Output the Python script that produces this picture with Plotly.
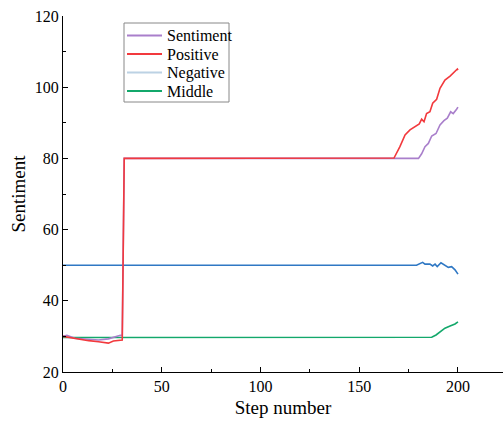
import plotly.graph_objects as go

# Step / value pairs for each series
sent_steps = [0, 2, 6, 12, 18, 23, 26, 28, 29, 30, 31, 100, 167, 180, 181.6, 183.3, 185, 186.7, 188.9, 190.9, 192.9, 194.6, 196.3, 197.6, 199.3, 200]
sent_vals = [30.0, 30.3, 29.5, 29.2, 29.0, 29.3, 29.8, 30.3, 30.3, 30.2, 80, 80, 80, 80, 81.3, 83.3, 84.2, 86.3, 87.0, 89.4, 90.6, 91.3, 93.1, 92.6, 93.8, 94.4]

pos_steps = [0, 1, 6, 13, 18, 23, 25.5, 30, 31, 100, 167.6, 170.6, 173.2, 175.7, 178.2, 180.4, 181.6, 182.8, 184.1, 185.8, 187.2, 189.2, 190.9, 193.4, 196, 198.5, 199.7, 200]
pos_vals = [30.0, 29.9, 29.3, 28.8, 28.5, 28.1, 28.7, 29.0, 80, 80, 80.1, 83.3, 86.6, 88.0, 88.9, 89.7, 91.0, 90.3, 92.6, 93.1, 95.5, 96.6, 99.7, 102.0, 103.1, 104.6, 105.1, 104.8]

neg_steps = [0, 100, 179, 182.1, 183.3, 185.8, 187.2, 188.4, 189.5, 191.4, 193.4, 195.1, 196.8, 198.5, 200]
neg_vals = [50.0, 50.0, 50.0, 50.8, 50.3, 50.3, 49.8, 50.3, 49.6, 50.7, 50.1, 49.4, 49.6, 48.7, 47.5]

mid_steps = [0, 100, 186.7, 188.9, 190.9, 193.4, 196, 198.5, 200]
mid_vals = [29.7, 29.7, 29.75, 30.4, 31.3, 32.3, 32.9, 33.5, 34.1]

x_ticks = [0, 50, 100, 150, 200]
y_ticks = [20, 40, 60, 80, 100, 120]

legend_names = ["Sentiment", "Positive", "Negative", "Middle"]
legend_colors = ["#a97fcb", "#f2393d", "#bcd2e4", "#13a86b"]

serif = "Liberation Serif, Times New Roman, serif"

W, H = 503, 425
ML, MR, MT, MB = 63, 0, 16, 53
PW, PH = W - ML - MR, H - MT - MB


def px(x):
    return (x - ML) / PW


def py(y):
    return (H - MB - y) / PH


fig = go.Figure()
fig.add_trace(go.Scatter(x=neg_steps, y=neg_vals, mode="lines", name="Negative",
                         line=dict(color="#2f78c4", width=1.6)))
fig.add_trace(go.Scatter(x=mid_steps, y=mid_vals, mode="lines", name="Middle",
                         line=dict(color="#13a86b", width=1.6)))
fig.add_trace(go.Scatter(x=sent_steps, y=sent_vals, mode="lines", name="Sentiment",
                         line=dict(color="#a97fcb", width=1.6)))
fig.add_trace(go.Scatter(x=pos_steps, y=pos_vals, mode="lines", name="Positive",
                         line=dict(color="#f2393d", width=1.6)))

# Boxed legend in the upper left of the plot area
shapes = [dict(type="rect", xref="paper", yref="paper",
               x0=px(124), x1=px(229), y0=py(102), y1=py(23),
               line=dict(color="#888", width=1), fillcolor="white", layer="above")]
annotations = []
for i, (name, color) in enumerate(zip(legend_names, legend_colors)):
    yy = 35.5 + i * 18.5
    shapes.append(dict(type="line", xref="paper", yref="paper",
                       x0=px(127), x1=px(162), y0=py(yy), y1=py(yy),
                       line=dict(color=color, width=2), layer="above"))
    annotations.append(dict(xref="paper", yref="paper", x=px(165), y=py(yy),
                            xanchor="left", yanchor="middle", text=name, showarrow=False,
                            font=dict(family=serif, size=16, color="black")))

fig.update_layout(
    width=W, height=H,
    margin=dict(l=ML, r=MR, t=MT, b=MB),
    paper_bgcolor="white", plot_bgcolor="white",
    font=dict(family=serif, color="black", size=16),
    showlegend=False,
    shapes=shapes, annotations=annotations,
    xaxis=dict(range=[0, 222.8], tickvals=x_ticks, showgrid=False, zeroline=False,
               showline=True, linecolor="black", linewidth=1.2,
               ticks="inside", ticklen=5, tickcolor="black", tickwidth=1.2,
               minor=dict(ticks="inside", ticklen=3, dtick=25, tick0=0, tickcolor="black"),
               title=dict(text="Step number", font=dict(size=19, family=serif), standoff=6),
               tickfont=dict(size=16, family=serif)),
    yaxis=dict(range=[20, 120], tickvals=y_ticks, showgrid=False, zeroline=False,
               showline=True, linecolor="black", linewidth=1.2,
               ticks="inside", ticklen=5, tickcolor="black", tickwidth=1.2,
               minor=dict(ticks="inside", ticklen=3, dtick=10, tick0=0, tickcolor="black"),
               title=dict(text="Sentiment", font=dict(size=19, family=serif), standoff=4),
               tickfont=dict(size=16, family=serif)),
)

fig.write_html("out.html")
